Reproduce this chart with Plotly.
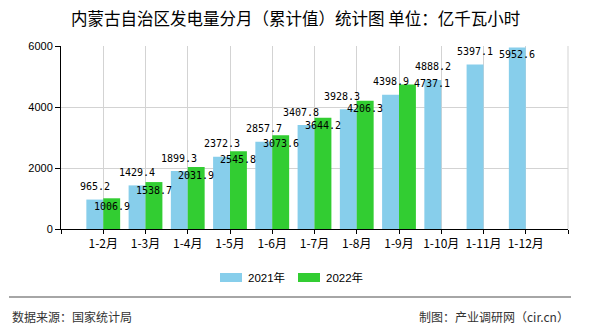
import plotly.graph_objects as go

# ---- data ----
categories = ['1-2月', '1-3月', '1-4月', '1-5月', '1-6月', '1-7月', '1-8月',
              '1-9月', '1-10月', '1-11月', '1-12月']
values_2021 = [965.2, 1429.4, 1899.3, 2372.3, 2857.7, 3407.8, 3928.3,
               4398.9, 4888.2, 5397.1, 5952.6]
values_2022 = [1006.9, 1538.7, 2031.9, 2545.8, 3073.6, 3644.2, 4206.3,
               4737.1, None, None, None]
series_names = ['2021年', '2022年']
y_ticks = [0, 2000, 4000, 6000]

title_text = '内蒙古自治区发电量分月（累计值）统计图 单位：亿千瓦小时'
source_text = '数据来源：国家统计局'
maker_text = '制图：产业调研网（cir.cn）'

# ---- style ----
colors = ['#87CEEB', '#32CD32']
W, H = 590, 330
L, R, T, B = 61, 22, 46, 101
bargap = 0.2
ymax = 6000
label_font = dict(family='DejaVu Sans Mono, Liberation Mono, monospace', size=10, color='#000')
cjk = 'Noto Sans CJK SC, sans-serif'
# label pixel nudges (to mimic the reference's overlap avoidance)
nudges = {(0, 5): (-5, 0), (0, 6): (-6, 0), (1, 7): (25, 9)}

xs = list(range(len(categories)))
fig = go.Figure()
for k, (name, vals) in enumerate(zip(series_names, [values_2021, values_2022])):
    fig.add_trace(go.Bar(x=xs, y=vals, name=name, marker_color=colors[k],
                         marker_line_width=0, showlegend=False, hoverinfo='skip'))

annotations = []
half = (1 - bargap) / 4
for k, vals in enumerate([values_2021, values_2022]):
    off = -half if k == 0 else half
    for i, v in enumerate(vals):
        if v is None:
            continue
        if k == 0:
            ys = 13 if v < 0.95 * ymax else -7
        else:
            ys = -8
        dx, dy = nudges.get((k, i), (0, 0))
        annotations.append(dict(x=xs[i] + off, y=v, xref='x', yref='y',
                                text=f'{v:.1f}', showarrow=False,
                                xanchor='center', yanchor='middle',
                                xshift=dx, yshift=ys + dy, font=label_font))

pw, ph = W - L - R, H - T - B
def px(x):
    return (x - L) / pw
def py(y):
    return (H - B - y) / ph

# title
annotations.append(dict(x=px(W / 2), y=py(18), xref='paper', yref='paper',
                        text=title_text, showarrow=False, xanchor='center',
                        yanchor='middle', font=dict(family=cjk, size=16.5, color='#000')))
# legend (custom)
shapes = []
leg_items = [(220, 242), (298, 320)]
for k, (x0, x1) in enumerate(leg_items):
    shapes.append(dict(type='rect', xref='paper', yref='paper',
                       x0=px(x0), x1=px(x1), y0=py(282), y1=py(273),
                       fillcolor=colors[k], line_width=0))
    annotations.append(dict(x=px(x1 + 4), y=py(277.5), xref='paper', yref='paper',
                            text=series_names[k], showarrow=False, xanchor='left',
                            yanchor='middle',
                            font=dict(family='Liberation Sans, ' + cjk, size=11.5, color='#000')))
# footer
shapes.append(dict(type='line', xref='paper', yref='paper', x0=px(9), x1=px(571),
                   y0=py(297), y1=py(297), line=dict(color='#888888', width=1.5)))
annotations.append(dict(x=px(10), y=py(316), xref='paper', yref='paper', text=source_text,
                        showarrow=False, xanchor='left', yanchor='middle',
                        font=dict(family=cjk, size=12, color='#333')))
annotations.append(dict(x=px(571), y=py(316), xref='paper', yref='paper', text=maker_text,
                        showarrow=False, xanchor='right', yanchor='middle',
                        font=dict(family=cjk, size=12, color='#333')))

tickvals_x = [-1] + xs + [len(xs)]
ticktext_x = [''] + categories + ['']

fig.update_layout(
    width=W, height=H, margin=dict(l=L, r=R, t=T, b=B, pad=0),
    paper_bgcolor='white', plot_bgcolor='white',
    barmode='group', bargap=bargap, bargroupgap=0,
    showlegend=False,
    annotations=annotations, shapes=shapes,
    xaxis=dict(range=[-1, len(xs)], tickmode='array', tickvals=tickvals_x,
               ticktext=ticktext_x, showgrid=True, gridcolor='#d3d3d3', gridwidth=1,
               showline=True, linecolor='#000', linewidth=1,
               ticks='outside', ticklen=4, tickcolor='#000',
               tickfont=dict(family=cjk, size=12, color='#000'), zeroline=False,
               fixedrange=True),
    yaxis=dict(range=[0, ymax], tickmode='array', tickvals=y_ticks,
               showgrid=True, gridcolor='#d3d3d3', gridwidth=1,
               showline=True, linecolor='#000', linewidth=1,
               ticks='outside', ticklen=5, tickcolor='#000',
               tickfont=dict(family='Liberation Sans, Arial, sans-serif', size=11, color='#000'),
               zeroline=False, fixedrange=True),
)
# right/top grid border
fig.add_shape(type='line', xref='paper', yref='paper', x0=1, x1=1, y0=0, y1=1,
              line=dict(color='#d3d3d3', width=1), layer='below')

fig.write_html('out.html', config={'displayModeBar': False})
